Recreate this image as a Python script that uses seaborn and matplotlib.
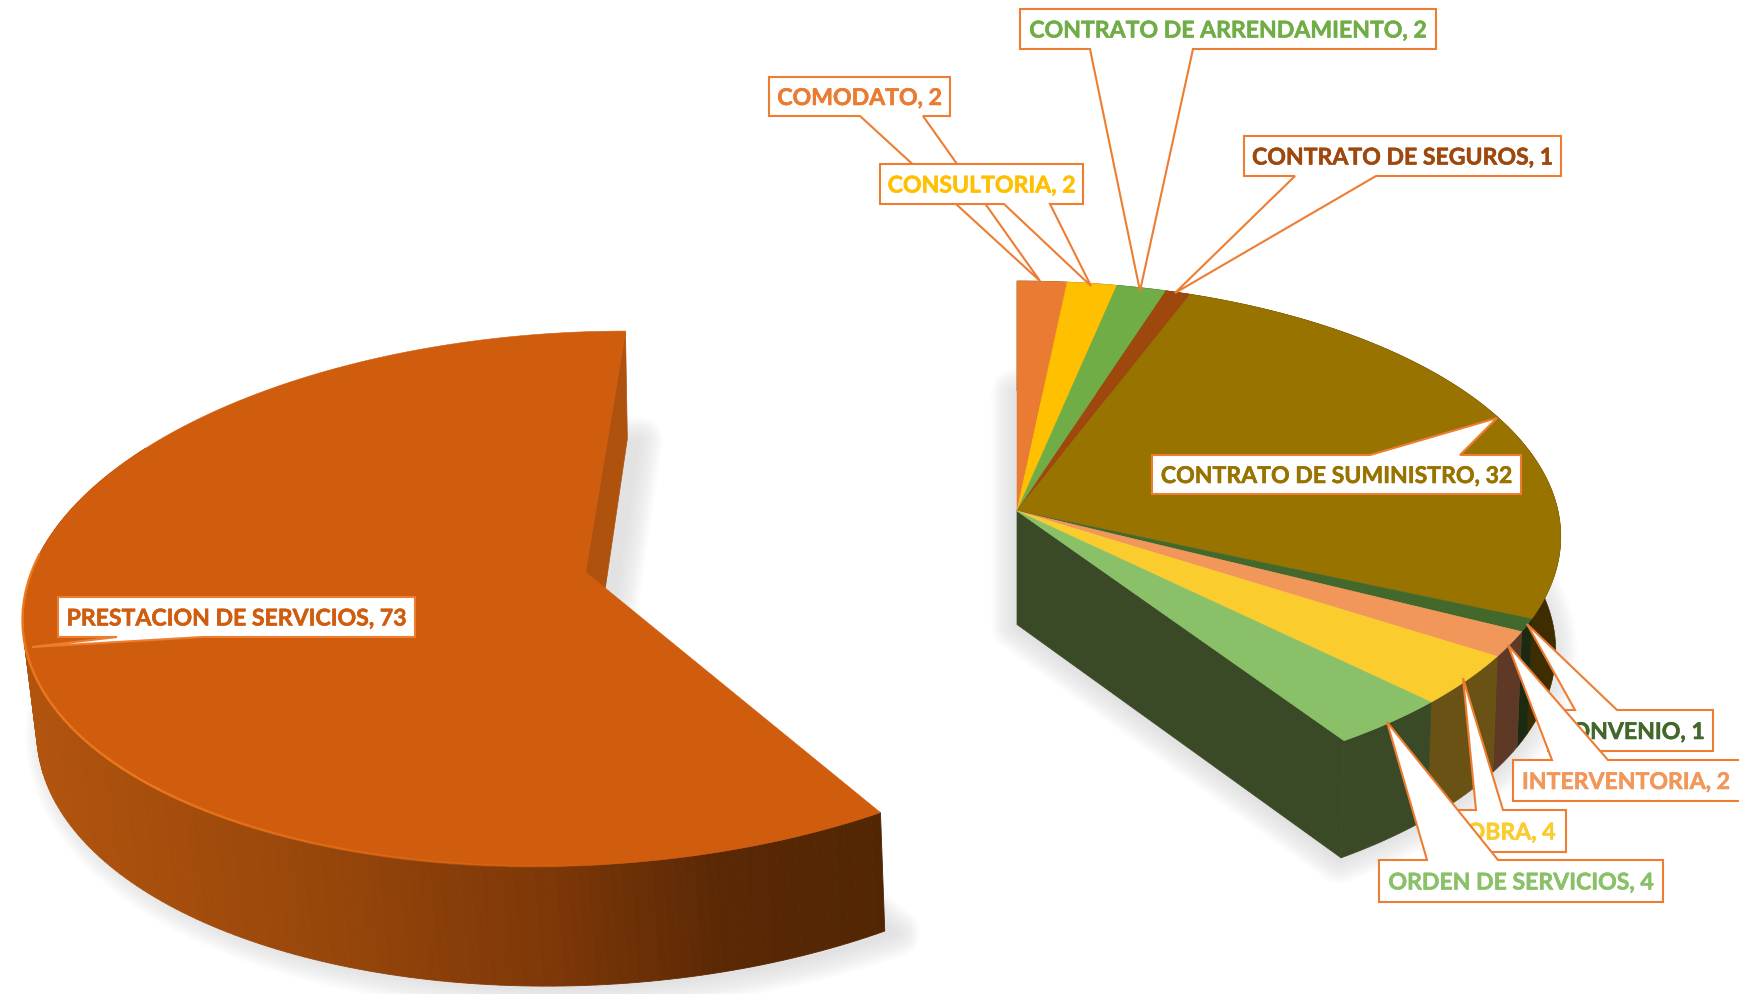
import numpy as np
import matplotlib
matplotlib.use("Agg")
import matplotlib.pyplot as plt
import matplotlib.patheffects as pe
import seaborn as sns

# ---- data ----
categories = ["COMODATO", "CONSULTORIA", "CONTRATO DE ARRENDAMIENTO", "CONTRATO DE SEGUROS",
              "CONTRATO DE SUMINISTRO", "CONVENIO", "INTERVENTORIA", "OBRA",
              "ORDEN DE SERVICIOS", "PRESTACION DE SERVICIOS"]
values = [2, 2, 2, 1, 32, 1, 2, 4, 4, 73]

top_colors = ["#E97C32", "#FFC000", "#70AD47", "#9E480E", "#997300",
              "#43682B", "#F1975A", "#FBCC2E", "#8AC168", "#D05C0E"]
wall_colors = ["#7A3F18", "#806000", "#38561F", "#4F2407", "#3D2D00",
               "#1B2A11", "#5E3A26", "#695214", "#3A4A26", "#8A3F0A"]

sns.set_theme(style="white")
plt.rcParams["font.family"] = ["Lato", "DejaVu Sans"]
palette = sns.color_palette(top_colors)
edge = "#ED7D31"

# ---- perspective geometry (pixels) ----
K = 0.1
right_top = dict(cx=1017.0, cy=511.0, a=541.0, s=0.0, b=253.0)
right_bot = dict(cx=1017.0, cy=624.5, a=536.0, s=0.0, b=257.0)
left_top = dict(cx=585.5, cy=572.0, a=554.0, s=44.0, b=265.0)
left_bot = dict(cx=591.0, cy=685.0, a=546.0, s=40.0, b=271.0)


def project(theta, g):
    t = np.radians(theta)
    u, v = np.sin(t), np.cos(t)
    w = 1 + K * v
    return g["cx"] + (g["a"] * u + g["s"] * v) / w, g["cy"] - g["b"] * v / w


def arc(t0, t1, g, n=None):
    n = n or max(4, int(abs(t1 - t0) * 2))
    return project(np.linspace(t0, t1, n), g)


fig = plt.figure(figsize=(17.39, 9.94), dpi=100, facecolor="white")
ax = fig.add_axes([0, 0, 1, 1])
ax.set_xlim(0, 1739)
ax.set_ylim(994, 0)
ax.axis("off")

angles = np.concatenate([[0], np.cumsum(values) / np.sum(values) * 360])
split = angles[-2]


def shadow(t0, t1, g, dx, dy):
    x, y = arc(t0, t1, g)
    x = np.r_[x, g["cx"], x[0]] + dx
    y = np.r_[y, g["cy"], y[0]] + dy
    for lw in np.arange(34, 2, -3):
        ax.plot(x, y, color="#8c8c8c", lw=lw, alpha=0.02, zorder=1,
                solid_joinstyle="round", solid_capstyle="round")
    ax.fill(x, y, color="#e2e2e2", zorder=1, lw=0)


shadow(0, split, right_bot, -2, 2)
shadow(split, 360, left_bot, 12, 2)

# ---- right-hand block: outer wall, cut wall, top ----
for i in range(9):
    ts = np.linspace(angles[i], angles[i + 1], max(3, int(values[i] * 3)))
    xt, yt = project(ts, right_top)
    xb, yb = project(ts[::-1], right_bot)
    ax.fill(np.r_[xt, xb], np.r_[yt, yb], color=wall_colors[i], lw=0.5, zorder=2)

xa, ya = project(split, right_top)
xe, ye = project(split, right_bot)
ax.fill([right_top["cx"], xa, xe, right_bot["cx"]],
        [right_top["cy"], ya, ye, right_bot["cy"]], color=wall_colors[8], lw=0.5, zorder=3)

for i in range(9):
    x, y = arc(angles[i], angles[i + 1], right_top)
    ax.fill(np.r_[right_top["cx"], x], np.r_[right_top["cy"], y], color=palette[i], lw=0.4, zorder=4)

# ---- left-hand block ----
x0t, y0t = project(360, left_top)
x0b, y0b = project(360, left_bot)
ax.fill([left_top["cx"], x0t, x0b, left_bot["cx"]],
        [left_top["cy"], y0t, y0b, left_bot["cy"]], color="#AF520E", lw=0.5, zorder=3)

shade_x = [20, 330, 550, 720, 880]
shade_rgb = np.array([[178, 84, 14], [150, 70, 10], [125, 55, 8], [90, 40, 5], [82, 38, 4]]) / 255
ts = np.arange(split, 300, 1.0)
for t0, t1 in zip(ts[:-1], ts[1:]):
    xt, yt = project(np.array([t0, t1]), left_top)
    xb, yb = project(np.array([t1, t0]), left_bot)
    col = [np.interp(xt.mean(), shade_x, shade_rgb[:, c]) for c in range(3)]
    ax.fill(np.r_[xt, xb], np.r_[yt, yb], color=col, lw=0.6, zorder=2)

x, y = arc(split, 360, left_top)
ax.fill(np.r_[left_top["cx"], x], np.r_[left_top["cy"], y], color=palette[9], lw=0.4, zorder=4)
hts = np.arange(170, 276, 2.0)
for t0, t1 in zip(hts[:-1], hts[1:]):
    hx, hy = project(np.array([t0, t1]), left_top)
    fade = min(1.0, (t0 - 170) / 50)
    ax.plot(hx, hy, color="#F07A1E", lw=1.8, alpha=0.9 * fade, zorder=5, solid_capstyle="butt")

# ---- callout labels ----
boxes = [(769, 77, 950, 116), (880, 164, 1083, 204), (1020, 9, 1436, 49), (1244, 136, 1561, 176),
         (1152, 455, 1521, 494), (1548, 710, 1713, 751), (1513, 760, 1745, 801), (1456, 810, 1566, 852),
         (1379, 860, 1663, 902), (58, 597, 415, 637)]
tips = [(1040, 281), (1091, 286), (1140, 291), (1175, 293), (1497, 418),
        (1527, 624), (1508, 645), (1463, 678), (1387, 722), (32, 647)]
bases = [(860, 923), (1004, 1050), (1090, 1193), (1295, 1376), (1370, 1460),
         (1575, 1617), (1552, 1608), (1476, 1503), (1427, 1498), (117, 203)]

for i, (name, val) in enumerate(zip(categories, values)):
    x0, y0, x1, y1 = boxes[i]
    b0, b1 = bases[i]
    tx, ty = tips[i]
    if ty > y1:      # pointer leaves the bottom edge
        px = [x0, x1, x1, b1, tx, b0, x0, x0]
        py = [y0, y0, y1, y1, ty, y1, y1, y0]
    else:            # pointer leaves the top edge
        px = [x0, b0, tx, b1, x1, x1, x0, x0]
        py = [y0, y0, ty, y0, y0, y1, y1, y0]
    z = 10 + i
    ax.fill(px, py, facecolor="white", edgecolor=edge, lw=1.5, zorder=z, joinstyle="miter")
    ax.text((x0 + x1) / 2 if i != 6 else x0 + 9, (y0 + y1) / 2 + 2.0,
            f"{name}, {val}", color=top_colors[i], fontsize=16.6, fontweight="bold",
            ha="center" if i != 6 else "left", va="center", zorder=z + 0.5,
            path_effects=[pe.withStroke(linewidth=0.4, foreground=top_colors[i])])

fig.savefig("out.png", dpi=100, facecolor="white")
